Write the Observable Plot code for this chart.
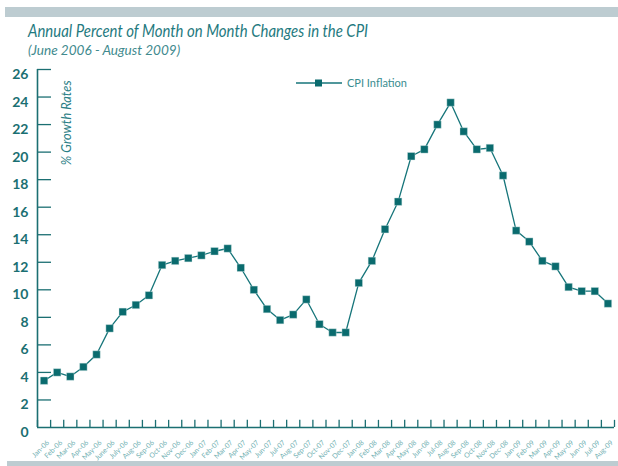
<!DOCTYPE html>
<html><head><meta charset="utf-8">
<script src="https://cdn.jsdelivr.net/npm/d3@7"></script>
<script src="https://cdn.jsdelivr.net/npm/@observablehq/plot@0.6"></script>
<style>
body{margin:0;background:#fff;}
#wrap{position:relative;width:618px;height:466px;overflow:hidden;font-family:Lato,"Open Sans",sans-serif;}
#wrap > *{position:absolute;}
.bar{background:#bdccd1;}
#title{left:28px;top:20px;font-size:17px;font-style:italic;color:#1f7a80;white-space:nowrap;transform:scaleX(0.88);transform-origin:left top;}
#sub{left:28px;top:41px;font-size:14px;font-style:italic;color:#3f8a8e;white-space:nowrap;font-weight:400;transform:scaleX(0.97);transform-origin:left top;}
#legend{left:296px;top:76px;font-size:11px;color:#3a8d90;white-space:nowrap;display:flex;align-items:center;}
</style></head>
<body>
<div id="wrap">
  <div class="bar" style="left:5px;top:7px;width:613px;height:10px;"></div>
  <div class="bar" style="left:7px;top:461px;width:611px;height:5px;"></div>
  <div id="chart" style="left:0;top:0;"></div>
  <div id="title">Annual Percent of Month on Month Changes in the CPI</div>
  <div id="sub">(June 2006 - August 2009)</div>
  <div id="legend"><svg width="48" height="12"><line x1="0" x2="46" y1="6" y2="6" stroke="#16757a" stroke-width="1.3"/><rect x="19" y="2.5" width="7" height="7" fill="#0a6b6e"/></svg><span style="margin-left:3px">CPI Inflation</span></div>
</div>
<script>
const months = ["Jan-06","Feb-06","Mar-06","Apr-06","May-06","June-06","July-06","Aug-06","Sep-06","Oct-06","Nov-06","Dec-06",
"Jan-07","Feb-07","Mar-07","Apr-07","May-07","Jun-07","Jul-07","Aug-07","Sep-07","Oct-07","Nov-07","Dec-07",
"Jan-08","Feb-08","Mar-08","Apr-08","May-08","Jun-08","Jul-08","Aug-08","Sep-08","Oct-08","Nov-08","Dec-08",
"Jan-09","Feb-09","Mar-09","Apr-09","May-09","Jun-09","Jul-09","Aug-09"];
const cpi = [3.4,4.0,3.7,4.4,5.3,7.2,8.4,8.9,9.6,11.8,12.1,12.3,
12.5,12.8,13.0,11.6,10.0,8.6,7.8,8.2,9.3,7.5,6.9,6.9,
10.5,12.1,14.4,16.4,19.7,20.2,22.0,23.6,21.5,20.2,20.3,18.3,
14.3,13.5,12.1,11.7,10.2,9.9,9.9,9.0];
const yTicks = [0,2,4,6,8,10,12,14,16,18,20,22,24,26];

const data = months.map((m,i)=>({m, i, x:i+0.5, v:cpi[i]}));
const teal = "#1b6f72";

const plot = Plot.plot({
  width:618, height:466,
  marginLeft:37, marginRight:4, marginTop:69, marginBottom:39,
  style:{fontFamily:"Lato, 'Open Sans', sans-serif", background:"transparent"},
  x:{type:"linear", domain:[0,months.length], axis:null},
  y:{domain:[0,26], axis:null},
  marks:[
    Plot.ruleY(yTicks.slice(1), {y:d=>d, stroke:teal, strokeWidth:1.3, insetRight:563}),
    Plot.ruleX(d3.range(months.length+1), {x:d=>d, y1:0, y2:0.52, stroke:teal, strokeWidth:1.3}),
    Plot.ruleX([0], {stroke:teal, strokeWidth:1.6}),
    Plot.ruleY([0], {stroke:teal, strokeWidth:1.6}),
    Plot.axisY({ticks:yTicks, tickSize:0, tickPadding:9, dy:5, fontSize:14, fill:teal, fontWeight:"bold", tickFormat:d=>d, label:null}),
    Plot.text(data, {x:"x", y:0, text:"m", rotate:-45, textAnchor:"end", dx:4, dy:14, fontSize:7, fill:"#72b1b3"}),
    Plot.text(["% Growth Rates"], {frameAnchor:"top-left", dx:24, dy:11, rotate:-90, textAnchor:"end", fontSize:12.8, fontStyle:"italic", fill:"#2b8086"}),
    Plot.line(data, {x:"x", y:"v", stroke:"#16757a", strokeWidth:1.3}),
    Plot.dot(data, {x:"x", y:"v", symbol:"square", r:4.2, fill:"#0a6b6e", stroke:"#cfe3e3", strokeWidth:0.4})
  ]
});
document.getElementById("chart").appendChild(plot);
</script>
</body></html>
